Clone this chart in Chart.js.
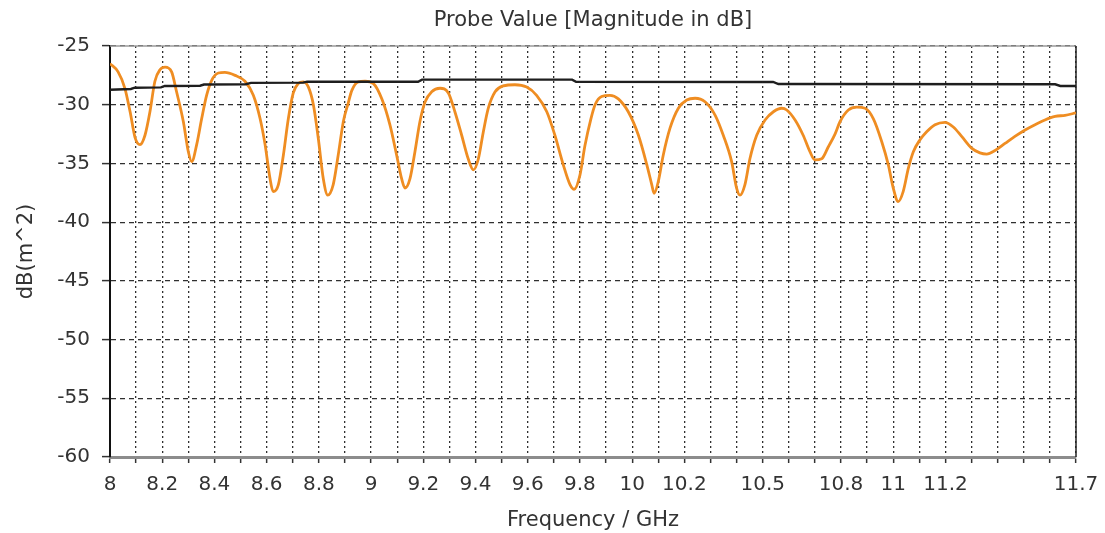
<!DOCTYPE html>
<html>
<head>
<meta charset="utf-8">
<script src="https://cdn.jsdelivr.net/npm/chart.js@4.4.0/dist/chart.umd.min.js"></script>
<style>
  html, body { margin: 0; padding: 0; background: #ffffff; }
  #wrap { width: 1105px; height: 533px; }
</style>
</head>
<body>
<div id="wrap"><canvas id="c" width="1105" height="533"></canvas></div>
<script>
// ---- data ----
const probeFreqs = [
  8.000, 8.031, 8.057, 8.077, 8.096, 8.115, 8.134, 8.153, 8.172, 8.192,
  8.211, 8.236, 8.255, 8.281, 8.300, 8.313, 8.332, 8.351, 8.370, 8.390,
  8.415, 8.440, 8.479, 8.517, 8.549, 8.575, 8.594, 8.613, 8.625, 8.645,
  8.664, 8.683, 8.702, 8.721, 8.740, 8.760, 8.779, 8.798, 8.817, 8.834,
  8.855, 8.874, 8.894, 8.912, 8.926, 8.951, 8.977, 9.009, 9.041, 9.072,
  9.098, 9.117, 9.130, 9.149, 9.168, 9.187, 9.207, 9.232, 9.264, 9.296,
  9.321, 9.347, 9.372, 9.392, 9.411, 9.430, 9.449, 9.475, 9.506, 9.551,
  9.596, 9.634, 9.673, 9.704, 9.736, 9.762, 9.778, 9.800, 9.819, 9.842,
  9.858, 9.883, 9.915, 9.947, 9.985, 10.024, 10.056, 10.075, 10.084, 10.100,
  10.119, 10.145, 10.177, 10.209, 10.241, 10.279, 10.318, 10.349, 10.381, 10.400,
  10.413, 10.432, 10.451, 10.477, 10.509, 10.541, 10.573, 10.592, 10.624, 10.655,
  10.681, 10.700, 10.726, 10.751, 10.777, 10.796, 10.828, 10.860, 10.892, 10.924,
  10.956, 10.981, 11.000, 11.019, 11.038, 11.058, 11.077, 11.102, 11.128, 11.160,
  11.198, 11.230, 11.262, 11.300, 11.332, 11.358, 11.390, 11.428, 11.466, 11.505,
  11.543, 11.581, 11.620, 11.658, 11.700
];
const probeValues = [
  -26.5, -27.2, -28.6, -30.6, -32.8, -33.4, -32.6, -30.6, -28.0, -27.0,
  -26.8, -27.2, -28.9, -31.45, -34.0, -34.85, -33.4, -31.2, -29.2, -27.9,
  -27.3, -27.25, -27.5, -28.0, -29.2, -31.2, -33.4, -36.3, -37.4, -36.8,
  -34.3, -31.2, -29.0, -28.2, -28.05, -28.5, -30.0, -32.9, -36.3, -37.7,
  -36.8, -34.3, -31.4, -29.9, -28.8, -28.05, -28.0, -28.2, -29.5, -31.7,
  -34.3, -36.3, -37.1, -36.3, -34.0, -31.45, -29.75, -28.9, -28.6, -29.0,
  -30.6, -32.6, -34.6, -35.55, -34.6, -32.3, -30.3, -28.9, -28.4, -28.3,
  -28.5, -29.2, -30.6, -32.6, -35.1, -36.8, -37.2, -36.0, -33.5, -31.2,
  -30.0, -29.3, -29.2, -29.5, -30.6, -32.6, -35.1, -36.8, -37.55, -36.55,
  -34.3, -32.0, -30.3, -29.6, -29.45, -29.75, -30.9, -32.6, -34.85, -37.1,
  -37.7, -36.8, -34.6, -32.6, -31.3, -30.6, -30.3, -30.45, -31.3, -32.6,
  -34.0, -34.7, -34.6, -33.6, -32.5, -31.45, -30.45, -30.2, -30.3, -31.2,
  -33.15, -35.1, -37.1, -38.25, -37.4, -35.4, -34.0, -33.0, -32.3, -31.7,
  -31.5, -31.9, -32.7, -33.7, -34.1, -34.2, -33.9, -33.3, -32.7, -32.15,
  -31.7, -31.3, -31.0, -30.9, -30.7
];
const refFreqs = [
  8.000, 8.080, 8.095, 8.195, 8.210, 8.345, 8.360, 8.520, 8.540, 8.740,
  8.755, 9.180, 9.195, 9.770, 9.785, 10.540, 10.560, 11.620, 11.640, 11.700
];
const refValues = [
  -28.72, -28.66, -28.55, -28.52, -28.40, -28.38, -28.28, -28.26, -28.14, -28.12,
  -28.04, -28.04, -27.86, -27.86, -28.04, -28.06, -28.24, -28.26, -28.40, -28.40
];
const xTickLabels = [8, 8.2, 8.4, 8.6, 8.8, 9, 9.2, 9.4, 9.6, 9.8, 10, 10.2, 10.5, 10.8, 11, 11.2, 11.7];
const xMin = 8, xMax = 11.7, xStep = 0.1;
const yMin = -60, yMax = -25, yStep = 5;

const toPoints = (xs, ys) => xs.map((x, i) => ({ x: x, y: ys[i] }));

const frameBorder = {
  id: 'frameBorder',
  beforeDatasetsDraw(chart) {
    const { ctx, chartArea: a } = chart;
    ctx.save();
    ctx.setLineDash([]);
    ctx.strokeStyle = '#9a9a9a';
    ctx.lineWidth = 1.5;
    ctx.beginPath();
    ctx.moveTo(a.left, a.top);
    ctx.lineTo(a.right, a.top);
    ctx.stroke();
    ctx.strokeStyle = '#222';
    ctx.lineWidth = 1.5;
    ctx.beginPath();
    ctx.moveTo(a.right, a.top);
    ctx.lineTo(a.right, a.bottom);
    ctx.stroke();
    ctx.restore();
  }
};

const FONT = "'DejaVu Sans', Verdana, sans-serif";

new Chart(document.getElementById('c'), {
  type: 'line',
  data: {
    datasets: [
      {
        data: toPoints(refFreqs, refValues),
        borderColor: '#1e1e1e',
        borderWidth: 2.4,
        pointRadius: 0,
        tension: 0,
        fill: false
      },
      {
        data: toPoints(probeFreqs, probeValues),
        borderColor: '#ef8d22',
        borderWidth: 2.8,
        pointRadius: 0,
        cubicInterpolationMode: 'monotone',
        fill: false
      }
    ]
  },
  options: {
    responsive: false,
    animation: false,
    devicePixelRatio: 1,
    layout: { padding: { left: 0, right: 29, top: 0, bottom: 0 } },
    plugins: {
      legend: { display: false },
      tooltip: { enabled: false },
      title: {
        display: true,
        text: 'Probe Value [Magnitude in dB]',
        fullSize: false,
        color: '#333',
        font: { family: FONT, size: 21, weight: 'normal' },
        padding: { top: 8.4, bottom: 12.4 }
      }
    },
    scales: {
      x: {
        type: 'linear',
        min: xMin,
        max: xMax,
        afterFit(scale) {
          scale.height = 76;
          scale.paddingLeft = 0;
          scale.paddingRight = 0;
        },
        afterBuildTicks(scale) {
          const t = [];
          const n = Math.round((xMax - xMin) / xStep);
          for (let i = 0; i <= n; i++) t.push({ value: Math.round((xMin + i * xStep) * 10) / 10 });
          scale.ticks = t;
        },
        ticks: {
          autoSkip: false,
          maxRotation: 0,
          minRotation: 0,
          padding: 10,
          color: '#333',
          font: { family: FONT, size: 20 },
          callback(value) {
            const hit = xTickLabels.find(v => Math.abs(v - value) < 1e-6);
            return hit === undefined ? '' : String(hit);
          }
        },
        grid: {
          color: 'rgba(25,25,25,0.9)',
          lineWidth: 1.3,
          drawTicks: true,
          tickLength: 6,
          tickColor: '#333',
          tickWidth: 1.5,
          tickBorderDash: []
        },
        border: { display: true, color: '#8c8c8c', width: 3, dash: [2, 3] },
        title: {
          display: true,
          text: 'Frequency / GHz',
          color: '#333',
          font: { family: FONT, size: 21 },
          padding: { top: 0, bottom: 0 }
        }
      },
      y: {
        type: 'linear',
        min: yMin,
        max: yMax,
        afterFit(scale) {
          scale.width = 110;
          scale.paddingTop = 0;
          scale.paddingBottom = 0;
        },
        ticks: {
          stepSize: yStep,
          padding: 12,
          color: '#333',
          font: { family: FONT, size: 20 }
        },
        grid: {
          color: 'rgba(25,25,25,0.9)',
          lineWidth: 1.2,
          drawTicks: true,
          tickLength: 8,
          tickColor: '#333',
          tickWidth: 1.5,
          tickBorderDash: []
        },
        border: { display: true, color: '#111', width: 2, dash: [5, 4] },
        title: {
          display: true,
          text: 'dB(m^2)',
          color: '#333',
          font: { family: FONT, size: 21 },
          padding: { top: 14.4, bottom: 0 }
        }
      }
    }
  },
  plugins: [frameBorder]
});
</script>
</body>
</html>
